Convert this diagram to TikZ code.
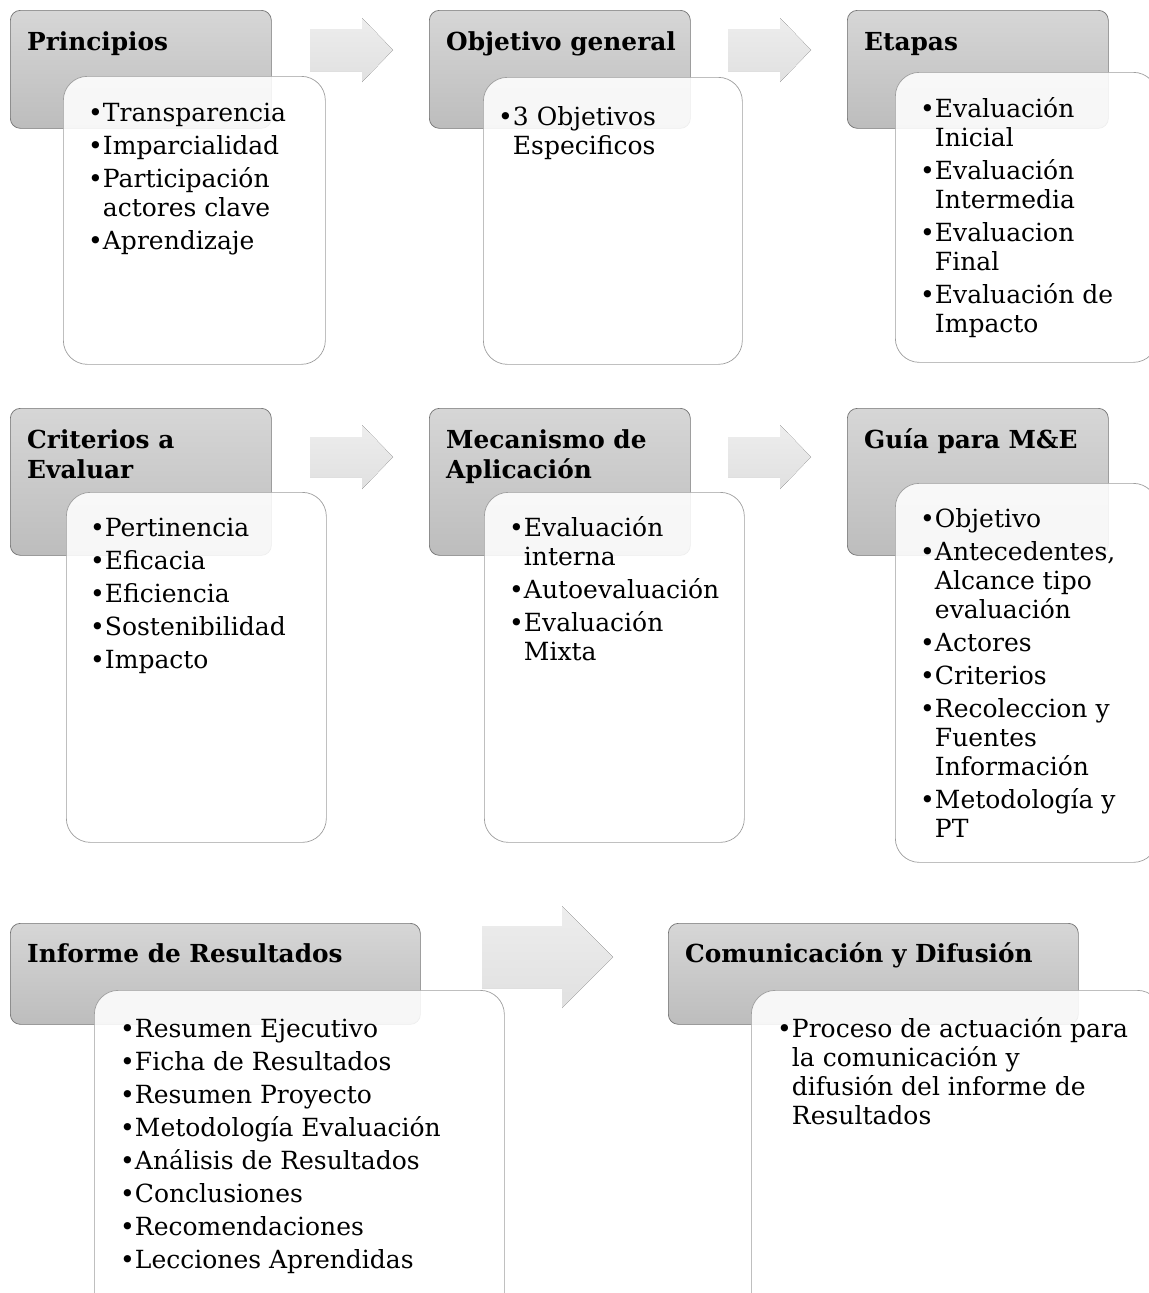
\documentclass[tikz,border=0pt]{standalone}
\usepackage{fontspec}
\setmainfont{DejaVu Serif}
\usetikzlibrary{calc}
\def\bul{\textbullet}
\def\hbul{\phantom{\textbullet}}
\def\ar{\rule{0pt}{24bp}}
\def\isep{4bp}
\def\flecha(#1,#2)(#3:#4:#5:#6){\fill[flecha] (#1,#2-#5) -- (#1+#3,#2-#5) -- (#1+#3,#2-#6) -- (#1+#4,#2) -- (#1+#3,#2+#6) -- (#1+#3,#2+#5) -- (#1,#2+#5) -- cycle;}
\tikzset{
  cabecera/.style 2 args={draw=black!55, line width=0.7bp, rounded corners=10bp, top color=black!16, bottom color=black!26,
    minimum width=#1bp, minimum height=#2bp, inner sep=0pt, anchor=north west},
  cuerpo/.style 2 args={draw=black!38, line width=0.7bp, rounded corners=24bp, fill=white, fill opacity=0.88,
    minimum width=#1bp, minimum height=#2bp, inner sep=0pt, anchor=north west},
  titulo/.style={font=\fontsize{24.8bp}{30bp}\selectfont\bfseries, align=left, inner sep=0pt, anchor=north west},
  lista/.style={font=\fontsize{25bp}{29bp}\selectfont, align=left, inner sep=0pt, anchor=north west},
  flecha/.style={top color=black!7, bottom color=black!12, draw=none},
}
\begin{document}
\begin{tikzpicture}[x=1bp, y=-1bp]
			%%%%% START %%%%%
			\useasboundingbox (0,0) rectangle (1149,1293);
			\clip (0,0) rectangle (1149,1293);
			
			\flecha(310,50)(52:83:21:32)
			\flecha(728,50)(52:83:21:32)
			\flecha(310,457)(52:83:20:32)
			\flecha(728,457)(52:83:20:32)
			\flecha(482,957)(80:131:31:51)
			
			% fila 1
			\node[cabecera={261}{118}] (prin-h) at (10,10) {};
			\node[cuerpo={262}{288}] (prin-b) at (63,76) {};
			\node[titulo] (prin-t) at ($(prin-h.north west)+(17,16)$) {\ar Principios};
			\node[lista] (prin-l) at ($(prin-b.north west)+(25,21)$) {\ar\bul Transparencia\\[\isep]
				\bul Imparcialidad\\[\isep] \bul Participación\\ \hbul actores clave\\[\isep] \bul Aprendizaje};
			
			\node[cabecera={261}{118}] (obj-h) at (429,10) {};
			\node[cuerpo={259}{287}] (obj-b) at (483,77) {};
			\node[titulo] (obj-t) at ($(obj-h.north west)+(17,16)$) {\ar Objetivo general};
			\node[lista] (obj-l) at ($(obj-b.north west)+(15,24)$) {\ar\bul 3 Objetivos\\ \hbul Especificos};
			
			\node[cabecera={261}{118}] (eta-h) at (847,10) {};
			\node[cuerpo={262}{290}] (eta-b) at (895,72) {};
			\node[titulo] (eta-t) at ($(eta-h.north west)+(17,16)$) {\ar Etapas};
			\node[lista] (eta-l) at ($(eta-b.north west)+(25,21)$) {\ar\bul Evaluación\\ \hbul Inicial\\[\isep]
				\bul Evaluación\\ \hbul Intermedia\\[\isep] \bul Evaluacion\\ \hbul Final\\[\isep]
				\bul Evaluación de\\ \hbul Impacto};
			
			% fila 2
			\node[cabecera={261}{147}] (cri-h) at (10,408) {};
			\node[cuerpo={260}{350}] (cri-b) at (66,492) {};
			\node[titulo] (cri-t) at ($(cri-h.north west)+(17,16)$) {\ar Criterios a\\ Evaluar};
			\node[lista] (cri-l) at ($(cri-b.north west)+(24,20)$) {\ar\bul Pertinencia\\[\isep] \bul Eficacia\\[\isep]
				\bul Eficiencia\\[\isep] \bul Sostenibilidad\\[\isep] \bul Impacto};
			
			\node[cabecera={261}{147}] (mec-h) at (429,408) {};
			\node[cuerpo={260}{350}] (mec-b) at (484,492) {};
			\node[titulo] (mec-t) at ($(mec-h.north west)+(17,16)$) {\ar Mecanismo de\\ Aplicación};
			\node[lista] (mec-l) at ($(mec-b.north west)+(25,20)$) {\ar\bul Evaluación\\ \hbul interna\\[\isep]
				\bul Autoevaluación\\[\isep] \bul Evaluación\\ \hbul Mixta};
			
			\node[cabecera={261}{147}] (gui-h) at (847,408) {};
			\node[cuerpo={262}{379}] (gui-b) at (895,483) {};
			\node[titulo] (gui-t) at ($(gui-h.north west)+(17,16)$) {\ar Guía para M\&E};
			\node[lista] (gui-l) at ($(gui-b.north west)+(25,20)$) {\ar\bul Objetivo\\[\isep]
				\bul Antecedentes,\\ \hbul Alcance tipo\\ \hbul evaluación\\[\isep] \bul Actores\\[\isep]
				\bul Criterios\\[\isep] \bul Recoleccion y\\ \hbul Fuentes\\ \hbul Información\\[\isep]
				\bul Metodología y\\ \hbul PT};
			
			% fila 3
			\node[cabecera={410}{101}] (inf-h) at (10,923) {};
			\node[cuerpo={410}{360}] (inf-b) at (94,990) {};
			\node[titulo] (inf-t) at ($(inf-h.north west)+(17,15)$) {\ar Informe de Resultados};
			\node[lista] (inf-l) at ($(inf-b.north west)+(26,23)$) {\ar\bul Resumen Ejecutivo\\[\isep]
				\bul Ficha de Resultados\\[\isep] \bul Resumen Proyecto\\[\isep] \bul Metodología Evaluación\\[\isep]
				\bul Análisis de Resultados\\[\isep] \bul Conclusiones\\[\isep] \bul Recomendaciones\\[\isep]
				\bul Lecciones Aprendidas};
			
			\node[cabecera={410}{101}] (com-h) at (668,923) {};
			\node[cuerpo={410}{360}] (com-b) at (751,990) {};
			\node[titulo] (com-t) at ($(com-h.north west)+(17,15)$) {\ar Comunicación y Difusión};
			\node[lista] (com-l) at ($(com-b.north west)+(26,23)$) {\ar\bul Proceso de actuación para\\
				\hbul la comunicación y\\ \hbul difusión del informe de\\ \hbul Resultados};
			
			%%%%% END %%%%%
\end{tikzpicture}
\end{document}
